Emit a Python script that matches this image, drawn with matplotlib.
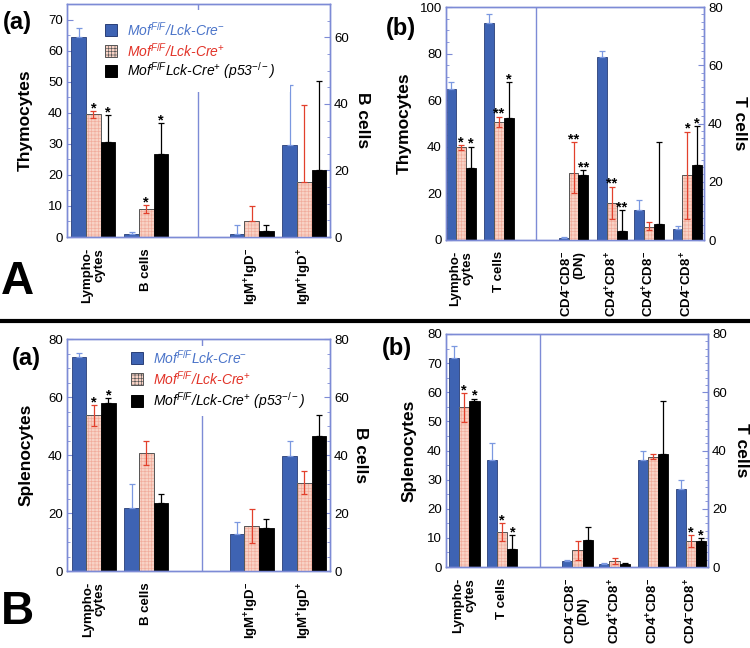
import matplotlib.pyplot as plt
from matplotlib.patches import Rectangle
from matplotlib.lines import Line2D
from matplotlib.ticker import MultipleLocator, AutoMinorLocator

plt.rcParams['font.family'] = ['Liberation Sans', 'DejaVu Sans']
plt.rcParams['mathtext.fontset'] = 'custom'
plt.rcParams['mathtext.rm'] = 'Liberation Sans'
plt.rcParams['mathtext.it'] = 'Liberation Sans:italic'
plt.rcParams['mathtext.bf'] = 'Liberation Sans:bold'
plt.rcParams['hatch.linewidth'] = 0.45

# ---- data -------------------------------------------------------------
legend_A = ["Mof$^{F/F}$/Lck-Cre$^{-}$", "Mof$^{F/F}$/Lck-Cre$^{+}$",
            "Mof$^{F/F}$Lck-Cre$^{+}$ (p53$^{-/-}$)"]
legend_B = ["Mof$^{F/F}$Lck-Cre$^{-}$", "Mof$^{F/F}$/Lck-Cre$^{+}$",
            "Mof$^{F/F}$/Lck-Cre$^{+}$ (p53$^{-/-}$)"]

b_cats = ["Lympho-\ncytes", "B cells",
          r"IgM$^\mathbf{+}$IgD$^\mathbf{-}$", r"IgM$^\mathbf{+}$IgD$^\mathbf{+}$"]
t_cats = ["Lympho-\ncytes", "T cells",
          "CD4$^\\mathbf{-}$CD8$^\\mathbf{-}$\n(DN)", r"CD4$^\mathbf{+}$CD8$^\mathbf{+}$",
          r"CD4$^\mathbf{+}$CD8$^\mathbf{-}$", r"CD4$^\mathbf{-}$CD8$^\mathbf{+}$"]

# A(a) thymocytes / B cells
aa_ctrl = [64.3, 0.9, 0.9, 27.5]
aa_ctrl_err = [2.9, 0.8, 2.7, 18.3]
aa_mof = [39.5, 9.0, 4.7, 16.4]
aa_mof_err = [1.1, 1.2, 4.5, 23.2]
aa_mof_lo = [1.1, 1.2, 0, 0]
aa_p53 = [30.7, 26.8, 1.8, 20.2]
aa_p53_err = [8.6, 9.8, 1.8, 26.7]
aa_star_mof = ["*", "*", "", ""]
aa_star_p53 = ["*", "*", "", ""]

# A(b) thymocytes / T cells
ab_ctrl = [65.0, 93.0, 0.6, 63.0, 10.3, 3.9]
ab_ctrl_err = [2.9, 3.8, 0.5, 1.8, 3.3, 0.9]
ab_mof = [39.8, 50.7, 23.0, 12.7, 4.6, 22.3]
ab_mof_err = [0.9, 2.3, 10.5, 5.6, 1.7, 14.9]
ab_mof_lo = [1.0, 2.4, 7.0, 5.6, 1.2, 15.2]
ab_p53 = [31.1, 52.3, 22.3, 3.2, 5.4, 25.7]
ab_p53_err = [8.9, 15.5, 1.6, 7.0, 28.4, 13.5]
ab_star_mof = ["*", "**", "**", "**", "", "*"]
ab_star_p53 = ["*", "*", "**", "**", "", "*"]

# B(a) splenocytes / B cells
ba_ctrl = [73.7, 21.6, 12.7, 39.7]
ba_ctrl_err = [1.5, 8.5, 4.1, 5.1]
ba_mof = [53.7, 40.8, 15.6, 30.5]
ba_mof_err = [3.6, 4.0, 5.9, 3.9]
ba_mof_lo = [3.6, 4.3, 6.0, 4.0]
ba_p53 = [57.9, 23.5, 14.7, 46.6]
ba_p53_err = [1.8, 3.1, 3.2, 7.1]
ba_star_mof = ["*", "", "", ""]
ba_star_p53 = ["*", "", "", ""]

# B(b) splenocytes / T cells
bb_ctrl = [71.7, 36.8, 1.9, 1.0, 36.8, 26.9]
bb_ctrl_err = [4.1, 5.9, 0.4, 0.5, 3.1, 2.8]
bb_mof = [54.9, 12.0, 5.9, 1.9, 37.9, 9.0]
bb_mof_err = [4.8, 3.1, 3.1, 1.1, 1.0, 2.0]
bb_mof_lo = [5.0, 3.1, 3.4, 0.9, 0.9, 2.3]
bb_p53 = [56.9, 6.2, 9.1, 1.0, 38.7, 9.0]
bb_p53_err = [0.9, 4.7, 4.8, 0.5, 18.3, 1.0]
bb_star_mof = ["*", "*", "", "", "", "*"]
bb_star_p53 = ["*", "*", "", "", "", "*"]

# ---- style ------------------------------------------------------------
W, H = 750, 648
BLUE = '#3e63b3'
BLUE_ERR = '#7b98e0'
PINK = '#f8d2c5'
PINK_HATCH = '#f1ab9b'
RED = '#e2402c'
SPINE = '#7d8bd6'
BLUE_TXT = '#4b74c9'
RED_TXT = '#e23328'

fig = plt.figure(figsize=(W / 100, H / 100), dpi=100)


def fbox(l, t, r, b):
    return [l / W, 1 - b / H, (r - l) / W, (b - t) / H]


def panel(rect, xmax, centers, div, n_left, cats, ctrl, ctrl_err, mof, mof_err, mof_lo,
          p53, p53_err, star_mof, star_p53, lmax, lstep, rmax, ylab_l, ylab_r,
          lx, rx, dn_align='right', rminor=4):
    ax = fig.add_axes(fbox(*rect))
    ax2 = ax.twinx()
    for i, c in enumerate(centers):
        a = ax if i < n_left else ax2
        # control
        a.bar(c - 1, ctrl[i], 1, color=BLUE, edgecolor='#2a3f78', lw=0.6, zorder=2)
        a.errorbar(c - 1, ctrl[i], yerr=[[0], [ctrl_err[i]]], fmt='none', ecolor=BLUE_ERR,
                   elinewidth=0.9, capsize=2, capthick=0.9, zorder=3)
        # Mof KO
        a.bar(c, mof[i], 1, color=PINK, hatch='+++++', edgecolor=PINK_HATCH, lw=0, zorder=2)
        a.bar(c, mof[i], 1, fill=False, edgecolor='#555555', lw=0.7, zorder=2)
        a.errorbar(c, mof[i], yerr=[[mof_lo[i]], [mof_err[i]]], fmt='none', ecolor=RED,
                   elinewidth=0.9, capsize=2, capthick=0.9, zorder=3)
        # Mof KO p53
        a.bar(c + 1, p53[i], 1, color='black', edgecolor='black', lw=0.6, zorder=2)
        a.errorbar(c + 1, p53[i], yerr=[[0], [p53_err[i]]], fmt='none', ecolor='black',
                   elinewidth=0.9, capsize=2, capthick=0.9, zorder=3)
        for dx, val, e, s in ((0, mof[i], mof_err[i], star_mof[i]),
                              (1, p53[i], p53_err[i], star_p53[i])):
            if s:
                a.annotate(s, (c + dx, val + e), xytext=(0, -3), textcoords='offset points',
                           ha='center', va='bottom', fontsize=10.5, fontweight='bold')
        ax.annotate(cats[i], (c, 0), xycoords=('data', 'axes fraction'),
                    xytext=(0, -8), textcoords='offset points', rotation=90,
                    ha='center', va='top', fontsize=9.5, fontweight='bold',
                    multialignment=dn_align if '(DN)' in cats[i] else 'right',
                    linespacing=0.95)
    ax.axvline(div, color=SPINE, lw=1, zorder=1)
    ax.set_xlim(0, xmax)
    ax.set_ylim(0, lmax)
    ax2.set_ylim(0, rmax)
    ax.yaxis.set_major_locator(MultipleLocator(lstep))
    ax.yaxis.set_minor_locator(AutoMinorLocator(2 if lstep == 10 else 4))
    ax2.yaxis.set_major_locator(MultipleLocator(20))
    ax2.yaxis.set_minor_locator(AutoMinorLocator(rminor))
    ax.tick_params(axis='x', bottom=False, labelbottom=False)
    for a in (ax, ax2):
        a.tick_params(axis='y', which='major', direction='in', color=SPINE, length=4,
                      width=0.8, labelsize=9.5, pad=3)
        a.tick_params(axis='y', which='minor', direction='in', color=SPINE, length=2,
                      width=0.6)
        for sp in a.spines.values():
            sp.set_color(SPINE)
            sp.set_linewidth(1)
    ax.set_ylabel(ylab_l, fontsize=12.5, fontweight='bold')
    ax.yaxis.set_label_coords(lx, 0.5)
    ax2.set_ylabel(ylab_r, fontsize=12.5, fontweight='bold', rotation=-90, va='bottom')
    ax2.yaxis.set_label_coords(rx, 0.5)
    return ax


def legend(x, rows, tx, labels, cover):
    fig.add_artist(Rectangle((cover[0] / W, 1 - cover[3] / H),
                             (cover[2] - cover[0]) / W, (cover[3] - cover[1]) / H,
                             transform=fig.transFigure, facecolor='white',
                             edgecolor='none', zorder=4))
    styles = [dict(facecolor=BLUE, edgecolor='#2a3f78'),
              dict(facecolor=PINK, edgecolor='#555555', hatch='+++++'),
              dict(facecolor='black', edgecolor='black')]
    colors = [BLUE_TXT, RED_TXT, 'black']
    for y, lab, st, col in zip(rows, labels, styles, colors):
        fig.add_artist(Rectangle((x / W, 1 - (y + 6) / H), 12 / W, 12 / H,
                                 transform=fig.transFigure, lw=0.7, zorder=5, **st))
        fig.text(tx / W, 1 - y / H, lab, color=col, fontsize=10, fontstyle='italic',
                 va='center', ha='left', zorder=5)


panel((67, 4, 330, 237), 17.95, [1.8, 5.41, 12.6, 16.2], 8.93, 2, b_cats,
      aa_ctrl, aa_ctrl_err, aa_mof, aa_mof_err, aa_mof_lo, aa_p53, aa_p53_err,
      aa_star_mof, aa_star_p53, 75, 10, 70, 'Thymocytes', 'B cells', -0.129, 1.095)
panel((446, 7, 704, 240), 26.3, [1.56, 5.39, 13.0, 16.9, 20.7, 24.6], 9.2, 2, t_cats,
      ab_ctrl, ab_ctrl_err, ab_mof, ab_mof_err, ab_mof_lo, ab_p53, ab_p53_err,
      ab_star_mof, ab_star_p53, 100, 20, 80, 'Thymocytes', 'T cells', -0.132, 1.109,
      rminor=8)
panel((67, 339, 330, 571), 17.95, [1.82, 5.41, 12.6, 16.2], 9.2, 2, b_cats,
      ba_ctrl, ba_ctrl_err, ba_mof, ba_mof_err, ba_mof_lo, ba_p53, ba_p53_err,
      ba_star_mof, ba_star_p53, 80, 20, 80, 'Splenocytes', 'B cells', -0.129, 1.087)
panel((446, 334, 708, 567), 25.8, [1.8, 5.54, 12.95, 16.6, 20.4, 24.1], 9.3, 2, t_cats,
      bb_ctrl, bb_ctrl_err, bb_mof, bb_mof_err, bb_mof_lo, bb_p53, bb_p53_err,
      bb_star_mof, bb_star_p53, 80, 10, 80, 'Splenocytes', 'T cells', -0.111, 1.098,
      dn_align='center', rminor=8)

legend(105, [29.5, 51, 71], 127, legend_A, (102, 10, 290, 92))
legend(131, [358, 379, 401], 153, legend_B, (128, 346, 315, 416))

# panel letters
for x, y, s in ((3, 22, '(a)'), (386, 28, '(b)'), (12, 359, '(a)'), (382, 348, '(b)')):
    fig.text(x / W, 1 - y / H, s, fontsize=17, fontweight='bold', va='center', ha='left')
fig.text(1 / W, 1 - 282 / H, 'A', fontsize=33, fontweight='bold', va='center', ha='left')
fig.text(1 / W, 1 - 612 / H, 'B', fontsize=33, fontweight='bold', va='center', ha='left')

fig.add_artist(Line2D([0, 1], [1 - 321 / H] * 2, transform=fig.transFigure,
                      color='black', lw=3))

fig.savefig('out.png', dpi=100)
